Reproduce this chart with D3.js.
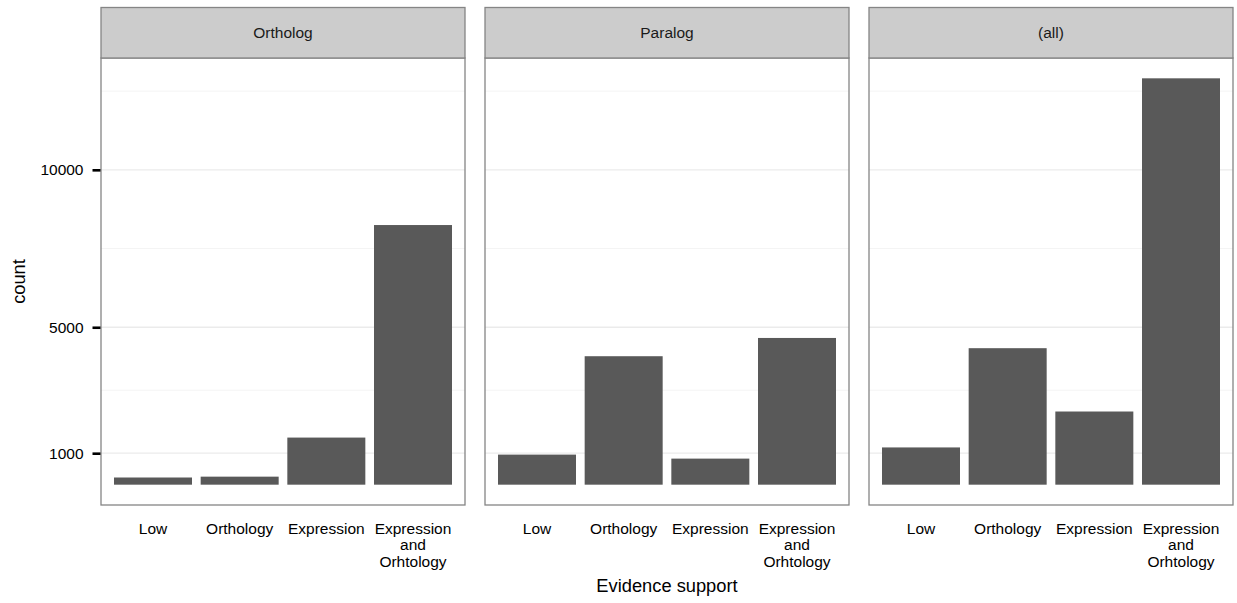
<!DOCTYPE html>
<html>
<head>
<meta charset="utf-8">
<script src="https://cdn.jsdelivr.net/npm/d3@7"></script>
<style>
  body { margin: 0; background: #fff; }
  text { font-family: "Liberation Sans", Arial, sans-serif; }
</style>
</head>
<body>
<div class="chart"></div>
<script>
// data
const categories = ["Low", "Orthology", "Expression", "Expression\nand\nOrhtology"];
const facets = ["Ortholog", "Paralog", "(all)"];
const orthologCounts = [228, 255, 1496, 8246];
const paralogCounts = [955, 4080, 828, 4660];
const allCounts = [1183, 4335, 2324, 12906];
const yTicks = [1000, 5000, 10000];
const yMinorTicks = [3000, 7500, 12500];

const width = 1237, height = 603;
const panelTop = 58, panelBottom = 505, stripTop = 7.5;
const panelLefts = [101, 485, 869];
const panelWidth = 364;

const svg = d3.select('.chart')
    .append('svg')
    .attr('width', width)
    .attr('height', height);

const seriesByFacet = [orthologCounts, paralogCounts, allCounts];

// ggplot style 5% expansion on y
const yMax = d3.max(seriesByFacet, s => d3.max(s));
const pad = yMax * 0.05;
const y = d3.scaleLinear()
    .domain([-pad, yMax + pad])
    .range([panelBottom, panelTop]);

facets.forEach((name, i) => {
    const x0 = panelLefts[i];
    const x = d3.scaleBand()
        .domain(categories)
        .range([x0, x0 + panelWidth])
        .paddingInner(0.1)
        .paddingOuter(0.15);

    const g = svg.append('g');

    // panel background
    g.append('rect')
        .attr('x', x0).attr('y', panelTop)
        .attr('width', panelWidth).attr('height', panelBottom - panelTop)
        .attr('fill', '#fff');

    // grid
    g.selectAll('.minor')
        .data(yMinorTicks)
        .enter()
        .append('line')
        .attr('x1', x0).attr('x2', x0 + panelWidth)
        .attr('y1', d => y(d)).attr('y2', d => y(d))
        .attr('stroke', '#f4f4f4')
        .attr('stroke-width', 1);

    g.selectAll('.major')
        .data(yTicks)
        .enter()
        .append('line')
        .attr('x1', x0).attr('x2', x0 + panelWidth)
        .attr('y1', d => y(d)).attr('y2', d => y(d))
        .attr('stroke', '#ebebeb')
        .attr('stroke-width', 1.3);

    // bars
    const vals = seriesByFacet[i];
    g.selectAll('.bar')
        .data(categories)
        .enter()
        .append('rect')
        .attr('class', 'bar')
        .attr('x', d => x(d))
        .attr('width', x.bandwidth())
        .attr('y', (d, j) => y(vals[j]))
        .attr('height', (d, j) => y(0) - y(vals[j]))
        .style('fill', '#595959');

    // panel border
    g.append('rect')
        .attr('x', x0).attr('y', panelTop)
        .attr('width', panelWidth).attr('height', panelBottom - panelTop)
        .attr('fill', 'none')
        .attr('stroke', '#858585')
        .attr('stroke-width', 1.3);

    // strip
    g.append('rect')
        .attr('x', x0).attr('y', stripTop)
        .attr('width', panelWidth).attr('height', panelTop - stripTop)
        .attr('fill', '#cccccc')
        .attr('stroke', '#858585')
        .attr('stroke-width', 1.3);
    g.append('text')
        .attr('x', x0 + panelWidth / 2)
        .attr('y', (stripTop + panelTop) / 2 + 5.5)
        .attr('text-anchor', 'middle')
        .attr('font-size', 15.5)
        .attr('fill', '#1a1a1a')
        .text(name);

    // x axis labels (multi-line)
    const xaxis = g.append('g')
        .attr('transform', 'translate(0,' + panelBottom + ')')
        .call(d3.axisBottom(x).tickSize(0).tickPadding(0));
    xaxis.select('.domain').remove();
    xaxis.selectAll('text').each(function (d) {
        const t = d3.select(this);
        t.text(null)
            .attr('y', 29)
            .attr('dy', null)
            .attr('font-size', 15.5)
            .attr('font-family', '"Liberation Sans", Arial, sans-serif')
            .attr('fill', '#000');
        d.split('\n').forEach((line, k) => {
            t.append('tspan')
                .attr('x', 0)
                .attr('dy', k === 0 ? 0 : 16.3)
                .text(line);
        });
    });

    // y axis only on first panel
    if (i === 0) {
        const yaxis = g.append('g')
            .attr('transform', 'translate(' + (x0 - 0.5) + ',0)')
            .call(d3.axisLeft(y).tickValues(yTicks).tickFormat(d3.format('d')).tickSize(8).tickPadding(9));
        yaxis.select('.domain').remove();
        yaxis.selectAll('line').attr('stroke', '#000').attr('stroke-width', 2.6);
        yaxis.selectAll('text')
            .attr('font-size', 15.5)
            .attr('font-family', '"Liberation Sans", Arial, sans-serif')
            .attr('fill', '#000');
    }
});

// axis titles
svg.append('text')
    .attr('x', (panelLefts[0] + panelLefts[2] + panelWidth) / 2)
    .attr('y', 592)
    .attr('text-anchor', 'middle')
    .attr('font-size', 18.3)
    .text('Evidence support');

svg.append('text')
    .attr('transform', 'translate(25,' + ((panelTop + panelBottom) / 2) + ') rotate(-90)')
    .attr('text-anchor', 'middle')
    .attr('font-size', 18.3)
    .text('count');
</script>
</body>
</html>
